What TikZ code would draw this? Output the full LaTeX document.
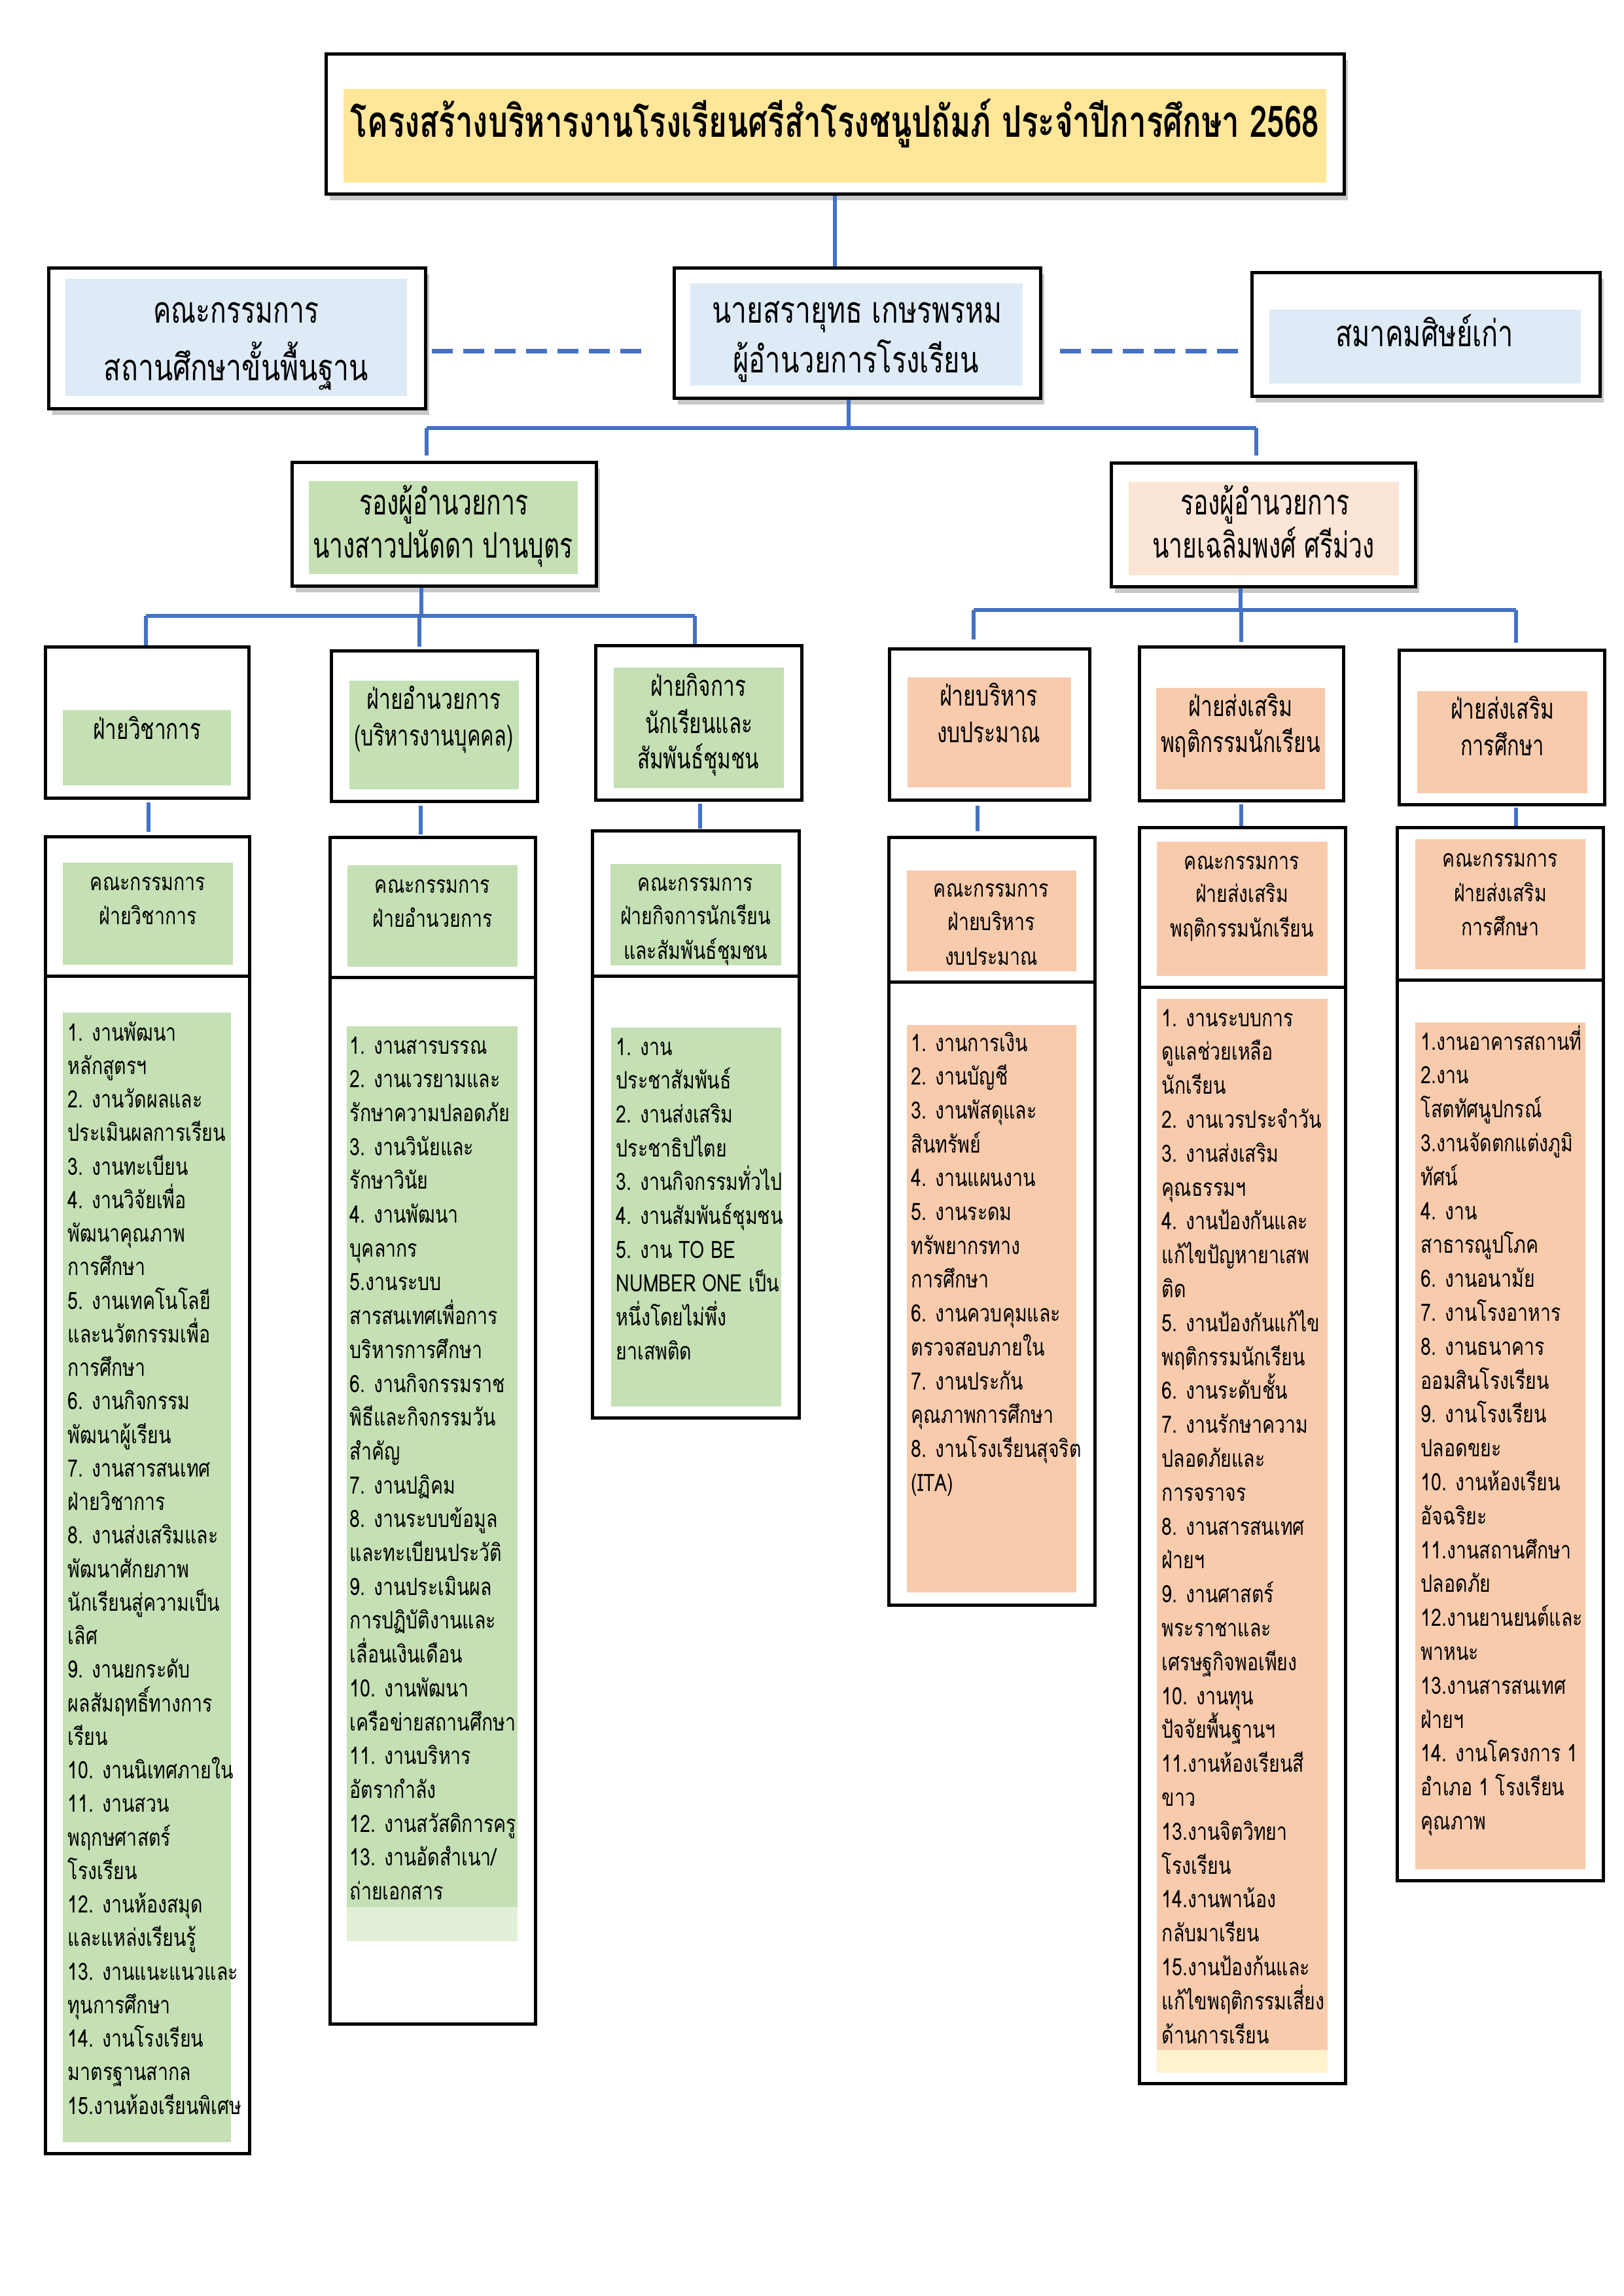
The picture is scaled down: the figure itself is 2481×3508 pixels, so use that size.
\documentclass[tikz,border=0pt]{standalone}
\usepackage{fontspec}
\usepackage{graphicx}
\usetikzlibrary{fit,shadows}
\newfontfamily\thai[Script=Thai]{Loma}
\newfontfamily\thaic[Script=Thai,FakeStretch=0.78]{Loma}
\newlength\pu
\setlength\pu{0.084643mm}
\definecolor{cblue}{HTML}{4472C4}
\definecolor{ygold}{HTML}{FFE699}
\definecolor{lblue}{HTML}{DEEBF7}
\definecolor{lgreen}{HTML}{C5E0B4}
\definecolor{llgreen}{HTML}{E2F0D9}
\definecolor{peach}{HTML}{F8CBAD}
\definecolor{lpeach}{HTML}{FBE5D6}
\definecolor{lyellow}{HTML}{FFF2CC}
\newcommand\hl[2]{\resizebox{#1\pu}{\height}{#2}}
\tikzset{
 obox/.style={draw=black, line width=5\pu, fill=white, inner sep=0pt},
 shad/.style={drop shadow={shadow xshift=6\pu, shadow yshift=-10\pu, fill=black, opacity=0.22}},
 ibox/.style={draw=none, inner sep=0pt},
 conn/.style={draw=cblue, line width=6\pu},
 dconn/.style={draw=cblue, line width=7\pu, dash pattern=on 32\pu off 16\pu},
 ttl/.style={font=\thai\bfseries\fontsize{16}{18}\selectfont, inner sep=0pt, anchor=base},
 hdrA/.style={font=\thai\fontsize{13.5}{15}\selectfont, inner sep=0pt, anchor=base},
 hdrB/.style={font=\thai\fontsize{13}{15}\selectfont, inner sep=0pt, anchor=base},
 hdrC/.style={font=\thai\fontsize{10.5}{12}\selectfont, inner sep=0pt, anchor=base},
 lst/.style={font=\thaic\fontsize{8.8}{11}\selectfont, inner sep=0pt, anchor=base west},
 cmt/.style={font=\thaic\fontsize{8.8}{11}\selectfont, inner sep=0pt, anchor=base},
}
\newcommand\lcol[5]{%
  \foreach \t [count=\i from 0] in {#5} {
    \node[lst, name=#1-\i] at (#2, {#3+\i*#4}) {\t};
  }}
\begin{document}
\begin{tikzpicture}[x=\pu, y=-\pu]
\fill[white] (0,0) rectangle (2481,3508);
\useasboundingbox (0,0) rectangle (2481,3508);

% ---------- top level ----------
\node[obox, shad, fit={(498,82) (2054,296)}] (title) {};
\node[ibox, fill=ygold, fit={(525,136) (2027,279)}] (titlein) {};
\node[ttl] (ttext) at (1276,209) {\hl{1480}{โครงสร้างบริหารงานโรงเรียนศรีสำโรงชนูปถัมภ์ ประจำปีการศึกษา 2568}};

\node[obox, shad, fit={(74,409) (650,624)}] (board) {};
\node[ibox, fill=lblue, fit={(100,426) (622,605)}] (boardin) {};
\node[hdrA] (board1) at (361,493) {\hl{253}{คณะกรรมการ}};
\node[hdrA] (board2) at (361,581) {\hl{404}{สถานศึกษาขั้นพื้นฐาน}};

\node[obox, shad, fit={(1030,409) (1590,608)}] (dir) {};
\node[ibox, fill=lblue, fit={(1055,433) (1563,589)}] (dirin) {};
\node[hdrA] (dir1) at (1310,493) {\hl{443}{นายสรายุทธ เกษรพรหม}};
\node[hdrA] (dir2) at (1308,569) {\hl{375}{ผู้อำนวยการโรงเรียน}};

\node[obox, shad, fit={(1913,416) (2445,605)}] (alum) {};
\node[ibox, fill=lblue, fit={(1940,473) (2416,586)}] (alumin) {};
\node[hdrA] (alum1) at (2177,529) {\hl{272}{สมาคมศิษย์เก่า}};

% ---------- deputies ----------
\node[obox, shad, fit={(446,706) (911,895)}] (depL) {};
\node[ibox, fill=lgreen, fit={(472,735) (883,877)}] (depLin) {};
\node[hdrB] (depL1) at (678,786) {\hl{258}{รองผู้อำนวยการ}};
\node[hdrB] (depL2) at (677,852) {\hl{397}{นางสาวปนัดดา ปานบุตร}};

\node[obox, shad, fit={(1698,707) (2163,896)}] (depR) {};
\node[ibox, fill=lpeach, fit={(1725,736) (2138,879)}] (depRin) {};
\node[hdrB] (depR1) at (1933,786) {\hl{258}{รองผู้อำนวยการ}};
\node[hdrB] (depR2) at (1931,852) {\hl{340}{นายเฉลิมพงศ์ ศรีม่วง}};

% ---------- departments ----------
\node[obox, fit={(69,988) (380,1219)}] (c1) {};
\node[ibox, fill=lgreen, fit={(96,1085) (353,1200)}] (c1in) {};
\node[hdrC] (c1t1) at (225,1129) {\hl{165}{ฝ่ายวิชาการ}};

\node[obox, fit={(506,994) (821,1224)}] (c2) {};
\node[ibox, fill=lgreen, fit={(534,1040) (793,1206)}] (c2in) {};
\node[hdrC] (c2t1) at (663,1083) {\hl{205}{ฝ่ายอำนวยการ}};
\node[hdrC] (c2t2) at (663,1139) {\hl{243}{(บริหารงานบุคคล)}};

\node[obox, fit={(910,986) (1225,1222)}] (c3) {};
\node[ibox, fill=lgreen, fit={(938,1020) (1198,1204)}] (c3in) {};
\node[hdrC] (c3t1) at (1067,1063) {\hl{146}{ฝ่ายกิจการ}};
\node[hdrC] (c3t2) at (1068,1120) {\hl{164}{นักเรียนและ}};
\node[hdrC] (c3t3) at (1067,1174) {\hl{186}{สัมพันธ์ชุมชน}};

\node[obox, fit={(1359,991) (1665,1222)}] (c4) {};
\node[ibox, fill=peach, fit={(1387,1035) (1637,1203)}] (c4in) {};
\node[hdrC] (c4t1) at (1511,1078) {\hl{150}{ฝ่ายบริหาร}};
\node[hdrC] (c4t2) at (1511,1134) {\hl{158}{งบประมาณ}};

\node[obox, fit={(1741,988) (2053,1223)}] (c5) {};
\node[ibox, fill=peach, fit={(1767,1051) (2025,1206)}] (c5in) {};
\node[hdrC] (c5t1) at (1896,1094) {\hl{159}{ฝ่ายส่งเสริม}};
\node[hdrC] (c5t2) at (1896,1149) {\hl{244}{พฤติกรรมนักเรียน}};

\node[obox, fit={(2138,993) (2452,1229)}] (c6) {};
\node[ibox, fill=peach, fit={(2166,1056) (2426,1212)}] (c6in) {};
\node[hdrC] (c6t1) at (2296,1098) {\hl{158}{ฝ่ายส่งเสริม}};
\node[hdrC] (c6t2) at (2296,1154) {\hl{128}{การศึกษา}};

% ---------- committees ----------
\node[obox, fit={(69,1278) (381,1491)}] (m1) {};
\node[ibox, fill=lgreen, fit={(96,1318) (356,1474)}] (m1in) {};
\node[cmt] (m1t1) at (226,1360) {คณะกรรมการ};
\node[cmt] (m1t2) at (226,1412) {ฝ่ายวิชาการ};

\node[obox, fit={(504,1279) (818,1493)}] (m2) {};
\node[ibox, fill=lgreen, fit={(531,1322) (791,1477)}] (m2in) {};
\node[cmt] (m2t1) at (661,1364) {คณะกรรมการ};
\node[cmt] (m2t2) at (661,1416) {ฝ่ายอำนวยการ};

\node[obox, fit={(905,1269) (1221,1491)}] (m3) {};
\node[ibox, fill=lgreen, fit={(933,1320) (1194,1475)}] (m3in) {};
\node[cmt] (m3t1) at (1063,1361) {คณะกรรมการ};
\node[cmt] (m3t2) at (1063,1412) {ฝ่ายกิจการนักเรียน};
\node[cmt] (m3t3) at (1063,1465) {และสัมพันธ์ชุมชน};

\node[obox, fit={(1358,1279) (1673,1500)}] (m4) {};
\node[ibox, fill=peach, fit={(1386,1330) (1645,1484)}] (m4in) {};
\node[cmt] (m4t1) at (1515,1370) {คณะกรรมการ};
\node[cmt] (m4t2) at (1515,1421) {ฝ่ายบริหาร};
\node[cmt] (m4t3) at (1515,1474) {งบประมาณ};

\node[obox, fit={(1741,1264) (2056,1508)}] (m5) {};
\node[ibox, fill=peach, fit={(1768,1286) (2029,1491)}] (m5in) {};
\node[cmt] (m5t1) at (1898,1328) {คณะกรรมการ};
\node[cmt] (m5t2) at (1898,1378) {ฝ่ายส่งเสริม};
\node[cmt] (m5t3) at (1898,1431) {พฤติกรรมนักเรียน};

\node[obox, fit={(2135,1264) (2450,1497)}] (m6) {};
\node[ibox, fill=peach, fit={(2163,1282) (2423,1481)}] (m6in) {};
\node[cmt] (m6t1) at (2293,1324) {คณะกรรมการ};
\node[cmt] (m6t2) at (2293,1377) {ฝ่ายส่งเสริม};
\node[cmt] (m6t3) at (2293,1429) {การศึกษา};

% ---------- task lists ----------
\node[obox, fit={(69,1491) (381,3290)}] (l1) {};
\node[ibox, fill=lgreen, fit={(96,1547) (353,3273)}] (l1in) {};
\lcol{l1t}{103}{1590}{51.25}{{1. งานพัฒนา},{หลักสูตรฯ},{2. งานวัดผลและ},{ประเมินผลการเรียน},{3. งานทะเบียน},{4. งานวิจัยเพื่อ},{พัฒนาคุณภาพ},{การศึกษา},{5. งานเทคโนโลยี},{และนวัตกรรมเพื่อ},{การศึกษา},{6. งานกิจกรรม},{พัฒนาผู้เรียน},{7. งานสารสนเทศ},{ฝ่ายวิชาการ},{8. งานส่งเสริมและ},{พัฒนาศักยภาพ},{นักเรียนสู่ความเป็น},{เลิศ},{9. งานยกระดับ},{ผลสัมฤทธิ์ทางการ},{เรียน},{10. งานนิเทศภายใน},{11. งานสวน},{พฤกษศาสตร์},{โรงเรียน},{12. งานห้องสมุด},{และแหล่งเรียนรู้},{13. งานแนะแนวและ},{ทุนการศึกษา},{14. งานโรงเรียน},{มาตรฐานสากล},{15.งานห้องเรียนพิเศษ}}

\node[obox, fit={(504,1493) (818,3092)}] (l2) {};
\node[ibox, fill=llgreen, fit={(530,2900) (791,2966)}] (l2strip) {};
\node[ibox, fill=lgreen, fit={(530,1568) (791,2914)}] (l2in) {};
\lcol{l2t}{534}{1610}{51.7}{{1. งานสารบรรณ},{2. งานเวรยามและ},{รักษาความปลอดภัย},{3. งานวินัยและ},{รักษาวินัย},{4. งานพัฒนา},{บุคลากร},{5.งานระบบ},{สารสนเทศเพื่อการ},{บริหารการศึกษา},{6. งานกิจกรรมราช},{พิธีและกิจกรรมวัน},{สำคัญ},{7. งานปฏิคม},{8. งานระบบข้อมูล},{และทะเบียนประวัติ},{9. งานประเมินผล},{การปฏิบัติงานและ},{เลื่อนเงินเดือน},{10. งานพัฒนา},{เครือข่ายสถานศึกษา},{11. งานบริหาร},{อัตรากำลัง},{12. งานสวัสดิการครู},{13. งานอัดสำเนา/},{ถ่ายเอกสาร}}

\node[obox, fit={(905,1491) (1221,2166)}] (l3) {};
\node[ibox, fill=lgreen, fit={(934,1570) (1194,2149)}] (l3in) {};
\lcol{l3t}{941}{1612}{51.7}{{1. งาน},{ประชาสัมพันธ์},{2. งานส่งเสริม},{ประชาธิปไตย},{3. งานกิจกรรมทั่วไป},{4. งานสัมพันธ์ชุมชน},{5. งาน TO BE},{NUMBER ONE เป็น},{หนึ่งโดยไม่พึ่ง},{ยาเสพติด}}

\node[obox, fit={(1358,1500) (1673,2452)}] (l4) {};
\node[ibox, fill=peach, fit={(1386,1566) (1645,2433)}] (l4in) {};
\lcol{l4t}{1392}{1606}{51.7}{{1. งานการเงิน},{2. งานบัญชี},{3. งานพัสดุและ},{สินทรัพย์},{4. งานแผนงาน},{5. งานระดม},{ทรัพยากรทาง},{การศึกษา},{6. งานควบคุมและ},{ตรวจสอบภายใน},{7. งานประกัน},{คุณภาพการศึกษา},{8. งานโรงเรียนสุจริต},{(ITA)}}

\node[obox, fit={(1741,1508) (2056,3183)}] (l5) {};
\node[ibox, fill=lyellow, fit={(1768,3120) (2029,3167)}] (l5strip) {};
\node[ibox, fill=peach, fit={(1768,1526) (2029,3132)}] (l5in) {};
\lcol{l5t}{1775}{1568}{51.8}{{1. งานระบบการ},{ดูแลช่วยเหลือ},{นักเรียน},{2. งานเวรประจำวัน},{3. งานส่งเสริม},{คุณธรรมฯ},{4. งานป้องกันและ},{แก้ไขปัญหายาเสพ},{ติด},{5. งานป้องกันแก้ไข},{พฤติกรรมนักเรียน},{6. งานระดับชั้น},{7. งานรักษาความ},{ปลอดภัยและ},{การจราจร},{8. งานสารสนเทศ},{ฝ่ายฯ},{9. งานศาสตร์},{พระราชาและ},{เศรษฐกิจพอเพียง},{10. งานทุน},{ปัจจัยพื้นฐานฯ},{11.งานห้องเรียนสี},{ขาว},{13.งานจิตวิทยา},{โรงเรียน},{14.งานพาน้อง},{กลับมาเรียน},{15.งานป้องก้นและ},{แก้ไขพฤติกรรมเสี่ยง},{ด้านการเรียน}}

\node[obox, fit={(2135,1497) (2450,2873)}] (l6) {};
\node[ibox, fill=peach, fit={(2163,1562) (2423,2856)}] (l6in) {};
\lcol{l6t}{2171}{1604}{51.8}{{1.งานอาคารสถานที่},{2.งาน},{โสตทัศนูปกรณ์},{3.งานจัดตกแต่งภูมิ},{ทัศน์},{4. งาน},{สาธารณูปโภค},{6. งานอนามัย},{7. งานโรงอาหาร},{8. งานธนาคาร},{ออมสินโรงเรียน},{9. งานโรงเรียน},{ปลอดขยะ},{10. งานห้องเรียน},{อัจฉริยะ},{11.งานสถานศึกษา},{ปลอดภัย},{12.งานยานยนต์และ},{พาหนะ},{13.งานสารสนเทศ},{ฝ่ายฯ},{14. งานโครงการ 1},{อำเภอ 1 โรงเรียน},{คุณภาพ}}

% ---------- connectors ----------
\coordinate (dy) at (0,536);
\draw[conn] (title.south) -- (title.south |- dir.north);
\draw[dconn, shorten <=7\pu, shorten >=41\pu] (board.east |- dy) -- (dir.west |- dy);
\draw[dconn, shorten <=27\pu, shorten >=6\pu] (dir.east |- dy) -- (alum.west |- dy);

\coordinate (j0) at (1297,654);
\coordinate (b0l) at (652,654);
\coordinate (b0r) at (1920,654);
\draw[conn] (dir.south -| j0) -- (j0);
\draw[conn] (b0l) -- (b0r);
\draw[conn, shorten >=8\pu] (b0l) -- (b0l |- depL.north);
\draw[conn, shorten >=9\pu] (b0r) -- (b0r |- depR.north);

\coordinate (j1) at (644,941);
\coordinate (b1a) at (223,941);
\coordinate (b1b) at (641,941);
\coordinate (b1c) at (1062,941);
\draw[conn] (depL.south -| j1) -- (j1);
\draw[conn] (b1a) -- (b1c);
\draw[conn] (b1a) -- (b1a |- c1.north);
\draw[conn, shorten >=4\pu] (b1b) -- (b1b |- c2.north);
\draw[conn] (b1c) -- (b1c |- c3.north);

\coordinate (j2) at (1896,932);
\coordinate (b2a) at (1488,932);
\coordinate (b2b) at (1897,932);
\coordinate (b2c) at (2317,932);
\draw[conn] (depR.south -| j2) -- (j2);
\draw[conn] (b2a) -- (b2c);
\draw[conn, shorten >=12\pu] (b2a) -- (b2a |- c4.north);
\draw[conn, shorten >=5\pu] (b2b) -- (b2b |- c5.north);
\draw[conn, shorten >=9\pu] (b2c) -- (b2c |- c6.north);

\coordinate (k1) at (227,0);
\coordinate (k2) at (643,0);
\coordinate (k3) at (1070,0);
\coordinate (k4) at (1494,0);
\coordinate (k5) at (1897,0);
\coordinate (k6) at (2317,0);
\draw[conn, shorten <=4\pu, shorten >=5\pu] (c1.south -| k1) -- (m1.north -| k1);
\draw[conn, shorten <=4\pu, shorten >=2\pu] (c2.south -| k2) -- (m2.north -| k2);
\draw[conn, shorten <=3\pu, shorten >=1\pu] (c3.south -| k3) -- (m3.north -| k3);
\draw[conn, shorten <=6\pu, shorten >=7\pu] (c4.south -| k4) -- (m4.north -| k4);
\draw[conn, shorten <=3\pu, shorten >=0\pu] (c5.south -| k5) -- (m5.north -| k5);
\draw[conn, shorten <=2\pu, shorten >=0\pu] (c6.south -| k6) -- (m6.north -| k6);
\end{tikzpicture}
\end{document}
